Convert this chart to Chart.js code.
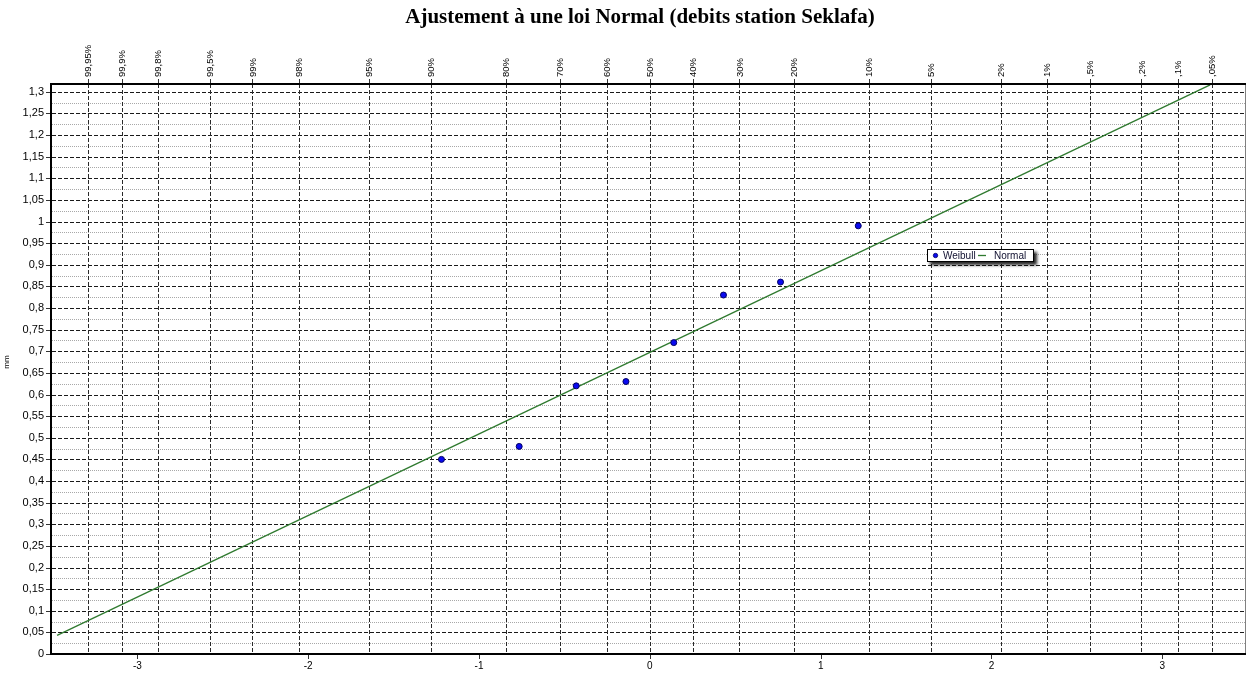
<!DOCTYPE html>
<html>
<head>
<meta charset="utf-8">
<script src="https://cdn.jsdelivr.net/npm/chart.js@4.4.1/dist/chart.umd.min.js"></script>
<style>
  html, body { margin: 0; padding: 0; background: #ffffff; overflow: hidden; }
  #wrap { position: relative; width: 1247px; height: 675px; }
  canvas { display: block; }
</style>
</head>
<body>
<div id="wrap"><canvas id="c" width="1247" height="675"></canvas></div>
<script>
const chartTitle = 'Ajustement à une loi Normal (debits station Seklafa)';
const yAxisTitle = 'mm';

// Weibull plotting positions (standard normal variate) and observed flows
const weibullZ = [-1.22, -0.765, -0.431, -0.14, 0.14, 0.431, 0.765, 1.22];
const weibullFlow = [0.45, 0.48, 0.62, 0.63, 0.72, 0.83, 0.86, 0.99];

// fitted normal law, straight line between its two end points
const normalZ = [-3.47, 3.28];
const normalFlow = [0.043, 1.316];

// exceedance-probability scale along the top axis
const probLabels = ['99,95%', '99,9%', '99,8%', '99,5%', '99%', '98%', '95%', '90%', '80%', '70%',
  '60%', '50%', '40%', '30%', '20%', '10%', '5%', '2%', '1%', ',5%', ',2%', ',1%', ',05%'];
const probZ = [-3.2905, -3.0902, -2.8782, -2.5758, -2.3263, -2.0537, -1.6449, -1.2816, -0.8416, -0.5244,
  -0.2533, 0, 0.2533, 0.5244, 0.8416, 1.2816, 1.6449, 2.0537, 2.3263, 2.5758, 2.8782, 3.0902, 3.2905];

// bottom axis ticks (normal variate) and value axis ticks
const bottomTicks = [-3, -2, -1, 0, 1, 2, 3];
const yTickValues = Array.from({ length: 27 }, (_, i) => +(i * 0.05).toFixed(2));
const yMinorValues = Array.from({ length: 26 }, (_, i) => +(0.025 + i * 0.05).toFixed(3));

const xRange = [-3.5, 3.49];
const yRange = [0, 1.318];

const LABEL_FONT = '"Liberation Sans", Arial, sans-serif';

// keep the plot frame at fixed margins, without label overhang padding
function fixPadding(s) {
  s.paddingLeft = 0; s.paddingRight = 0; s.paddingTop = 0; s.paddingBottom = 0;
}

const gridPlugin = {
  id: 'probGrid',
  beforeDatasetsDraw(chart) {
    const { ctx, chartArea: a, scales } = chart;
    ctx.save();
    ctx.lineWidth = 1;
    // minor horizontal lines: light dotted
    ctx.strokeStyle = '#a8a8a8';
    ctx.setLineDash([1, 1]);
    yMinorValues.forEach(v => {
      const y = Math.round(scales.y.getPixelForValue(v)) + 0.5;
      ctx.beginPath(); ctx.moveTo(a.left, y); ctx.lineTo(a.right, y); ctx.stroke();
    });
    // major horizontal lines: black dashes
    ctx.strokeStyle = '#1a1a1a';
    ctx.setLineDash([4, 2]);
    yTickValues.forEach(v => {
      if (v === 0) return;
      const y = Math.round(scales.y.getPixelForValue(v)) + 0.5;
      ctx.beginPath(); ctx.moveTo(a.left, y); ctx.lineTo(a.right, y); ctx.stroke();
    });
    // vertical lines at the probability graduations
    ctx.strokeStyle = '#2a2a2a';
    probZ.forEach(z => {
      const x = Math.round(scales.xTop.getPixelForValue(z)) + 0.5;
      ctx.beginPath(); ctx.moveTo(x, a.top); ctx.lineTo(x, a.bottom); ctx.stroke();
    });
    ctx.restore();
  }
};

const framePlugin = {
  id: 'frame',
  afterDatasetsDraw(chart) {
    const { ctx, chartArea: a, scales } = chart;
    ctx.save();
    ctx.setLineDash([]);
    // thin right border
    ctx.strokeStyle = '#808080';
    ctx.lineWidth = 1;
    ctx.beginPath(); ctx.moveTo(a.right - 0.5, a.top); ctx.lineTo(a.right - 0.5, a.bottom); ctx.stroke();
    // heavy left, top and bottom axes
    ctx.strokeStyle = '#000000';
    ctx.lineWidth = 2;
    ctx.beginPath();
    ctx.moveTo(a.left - 1, a.top); ctx.lineTo(a.right, a.top);
    ctx.moveTo(a.left - 1, a.bottom); ctx.lineTo(a.right, a.bottom);
    ctx.moveTo(a.left - 1, a.top - 1); ctx.lineTo(a.left - 1, a.bottom + 1);
    ctx.stroke();
    // tick marks
    ctx.lineWidth = 1;
    ctx.strokeStyle = '#333333';
    ctx.beginPath();
    yTickValues.forEach(v => {
      const y = Math.round(scales.y.getPixelForValue(v)) + 0.5;
      ctx.moveTo(a.left - 6, y); ctx.lineTo(a.left - 2, y);
    });
    bottomTicks.forEach(v => {
      const x = Math.round(scales.x.getPixelForValue(v)) + 0.5;
      ctx.moveTo(x, a.bottom + 1); ctx.lineTo(x, a.bottom + 5);
    });
    probZ.forEach(z => {
      const x = Math.round(scales.xTop.getPixelForValue(z)) + 0.5;
      ctx.moveTo(x, a.top - 5); ctx.lineTo(x, a.top - 1);
    });
    ctx.stroke();
    // probability labels, reading upwards above the top axis
    ctx.fillStyle = '#000000';
    ctx.font = '9.5px ' + LABEL_FONT;
    ctx.textAlign = 'left';
    ctx.textBaseline = 'middle';
    probZ.forEach((z, i) => {
      const x = scales.xTop.getPixelForValue(z);
      ctx.save();
      ctx.translate(x + 0.5, a.top - 7);
      ctx.rotate(-Math.PI / 2);
      ctx.fillText(probLabels[i], 0, 0);
      ctx.restore();
    });
    ctx.restore();
  },
  afterDraw(chart) {
    const { ctx } = chart;
    ctx.save();
    // title
    ctx.fillStyle = '#000000';
    ctx.font = 'bold 21px "Liberation Serif", "Times New Roman", serif';
    ctx.textAlign = 'center';
    ctx.textBaseline = 'alphabetic';
    ctx.fillText(chartTitle, 640, 23);
    // value axis title
    ctx.font = '8px ' + LABEL_FONT;
    ctx.translate(7, 362);
    ctx.rotate(-Math.PI / 2);
    ctx.textAlign = 'center';
    ctx.textBaseline = 'middle';
    ctx.fillText(yAxisTitle, 0, 0);
    ctx.restore();

    // legend box with drop shadow
    const lx = 927, ly = 249, lw = 107, lh = 13;
    ctx.save();
    ctx.shadowColor = 'rgba(0,0,0,0.85)';
    ctx.shadowBlur = 3;
    ctx.shadowOffsetX = 3;
    ctx.shadowOffsetY = 3;
    ctx.fillStyle = '#ffffff';
    ctx.fillRect(lx, ly, lw, lh);
    ctx.restore();
    ctx.save();
    ctx.strokeStyle = '#000000';
    ctx.lineWidth = 1;
    ctx.strokeRect(lx + 0.5, ly + 0.5, lw - 1, lh - 1);
    const ds = chart.data.datasets;
    const cy = ly + lh / 2;
    ctx.beginPath();
    ctx.arc(lx + 8.5, cy, 2.2, 0, Math.PI * 2);
    ctx.fillStyle = ds[1].backgroundColor;
    ctx.fill();
    ctx.strokeStyle = ds[1].borderColor;
    ctx.lineWidth = 0.8;
    ctx.stroke();
    ctx.fillStyle = '#101030';
    ctx.font = '10px ' + LABEL_FONT;
    ctx.textAlign = 'left';
    ctx.textBaseline = 'middle';
    ctx.fillText(ds[1].label, lx + 16, cy + 0.5);
    ctx.strokeStyle = ds[0].borderColor;
    ctx.lineWidth = 1.3;
    ctx.beginPath();
    ctx.moveTo(lx + 51, cy); ctx.lineTo(lx + 59, cy);
    ctx.stroke();
    ctx.fillText(ds[0].label, lx + 67, cy + 0.5);
    ctx.restore();
  }
};

new Chart(document.getElementById('c'), {
  type: 'scatter',
  data: {
    datasets: [
      {
        label: 'Normal',
        data: normalZ.map((z, i) => ({ x: z, y: normalFlow[i] })),
        showLine: true,
        borderColor: '#2f7a2f',
        borderWidth: 1.3,
        pointRadius: 0,
        fill: false,
        order: 2
      },
      {
        label: 'Weibull',
        data: weibullZ.map((z, i) => ({ x: z, y: weibullFlow[i] })),
        backgroundColor: '#0a0af0',
        borderColor: '#000060',
        borderWidth: 1,
        pointRadius: 3,
        order: 1
      }
    ]
  },
  options: {
    responsive: false,
    animation: false,
    devicePixelRatio: 1,
    layout: { autoPadding: false, padding: { left: 0, right: 1, top: 0, bottom: 0 } },
    plugins: { legend: { display: false }, title: { display: false }, tooltip: { enabled: false } },
    scales: {
      x: {
        type: 'linear', position: 'bottom', min: xRange[0], max: xRange[1],
        afterBuildTicks: s => { s.ticks = bottomTicks.map(v => ({ value: v })); },
        afterFit: s => { s.height = 21; fixPadding(s); },
        ticks: {
          callback: v => String(v), autoSkip: false, maxRotation: 0, padding: 6,
          color: '#000000', font: { family: LABEL_FONT, size: 10 }
        },
        grid: { display: false, drawTicks: false },
        border: { display: false }
      },
      xTop: {
        type: 'linear', axis: 'x', position: 'top', min: xRange[0], max: xRange[1],
        afterBuildTicks: s => { s.ticks = probZ.map(v => ({ value: v })); },
        afterFit: s => { s.height = 84; fixPadding(s); },
        ticks: { display: false },
        grid: { display: false, drawTicks: false },
        border: { display: false }
      },
      y: {
        type: 'linear', position: 'left', min: yRange[0], max: yRange[1],
        afterBuildTicks: s => { s.ticks = yTickValues.map(v => ({ value: v })); },
        afterFit: s => { s.width = 52; fixPadding(s); },
        ticks: {
          callback: v => String(v).replace('.', ','), autoSkip: false, padding: 8,
          color: '#000000', font: { family: LABEL_FONT, size: 11 }
        },
        grid: { display: false, drawTicks: false },
        border: { display: false }
      }
    }
  },
  plugins: [gridPlugin, framePlugin]
});
</script>
</body>
</html>
